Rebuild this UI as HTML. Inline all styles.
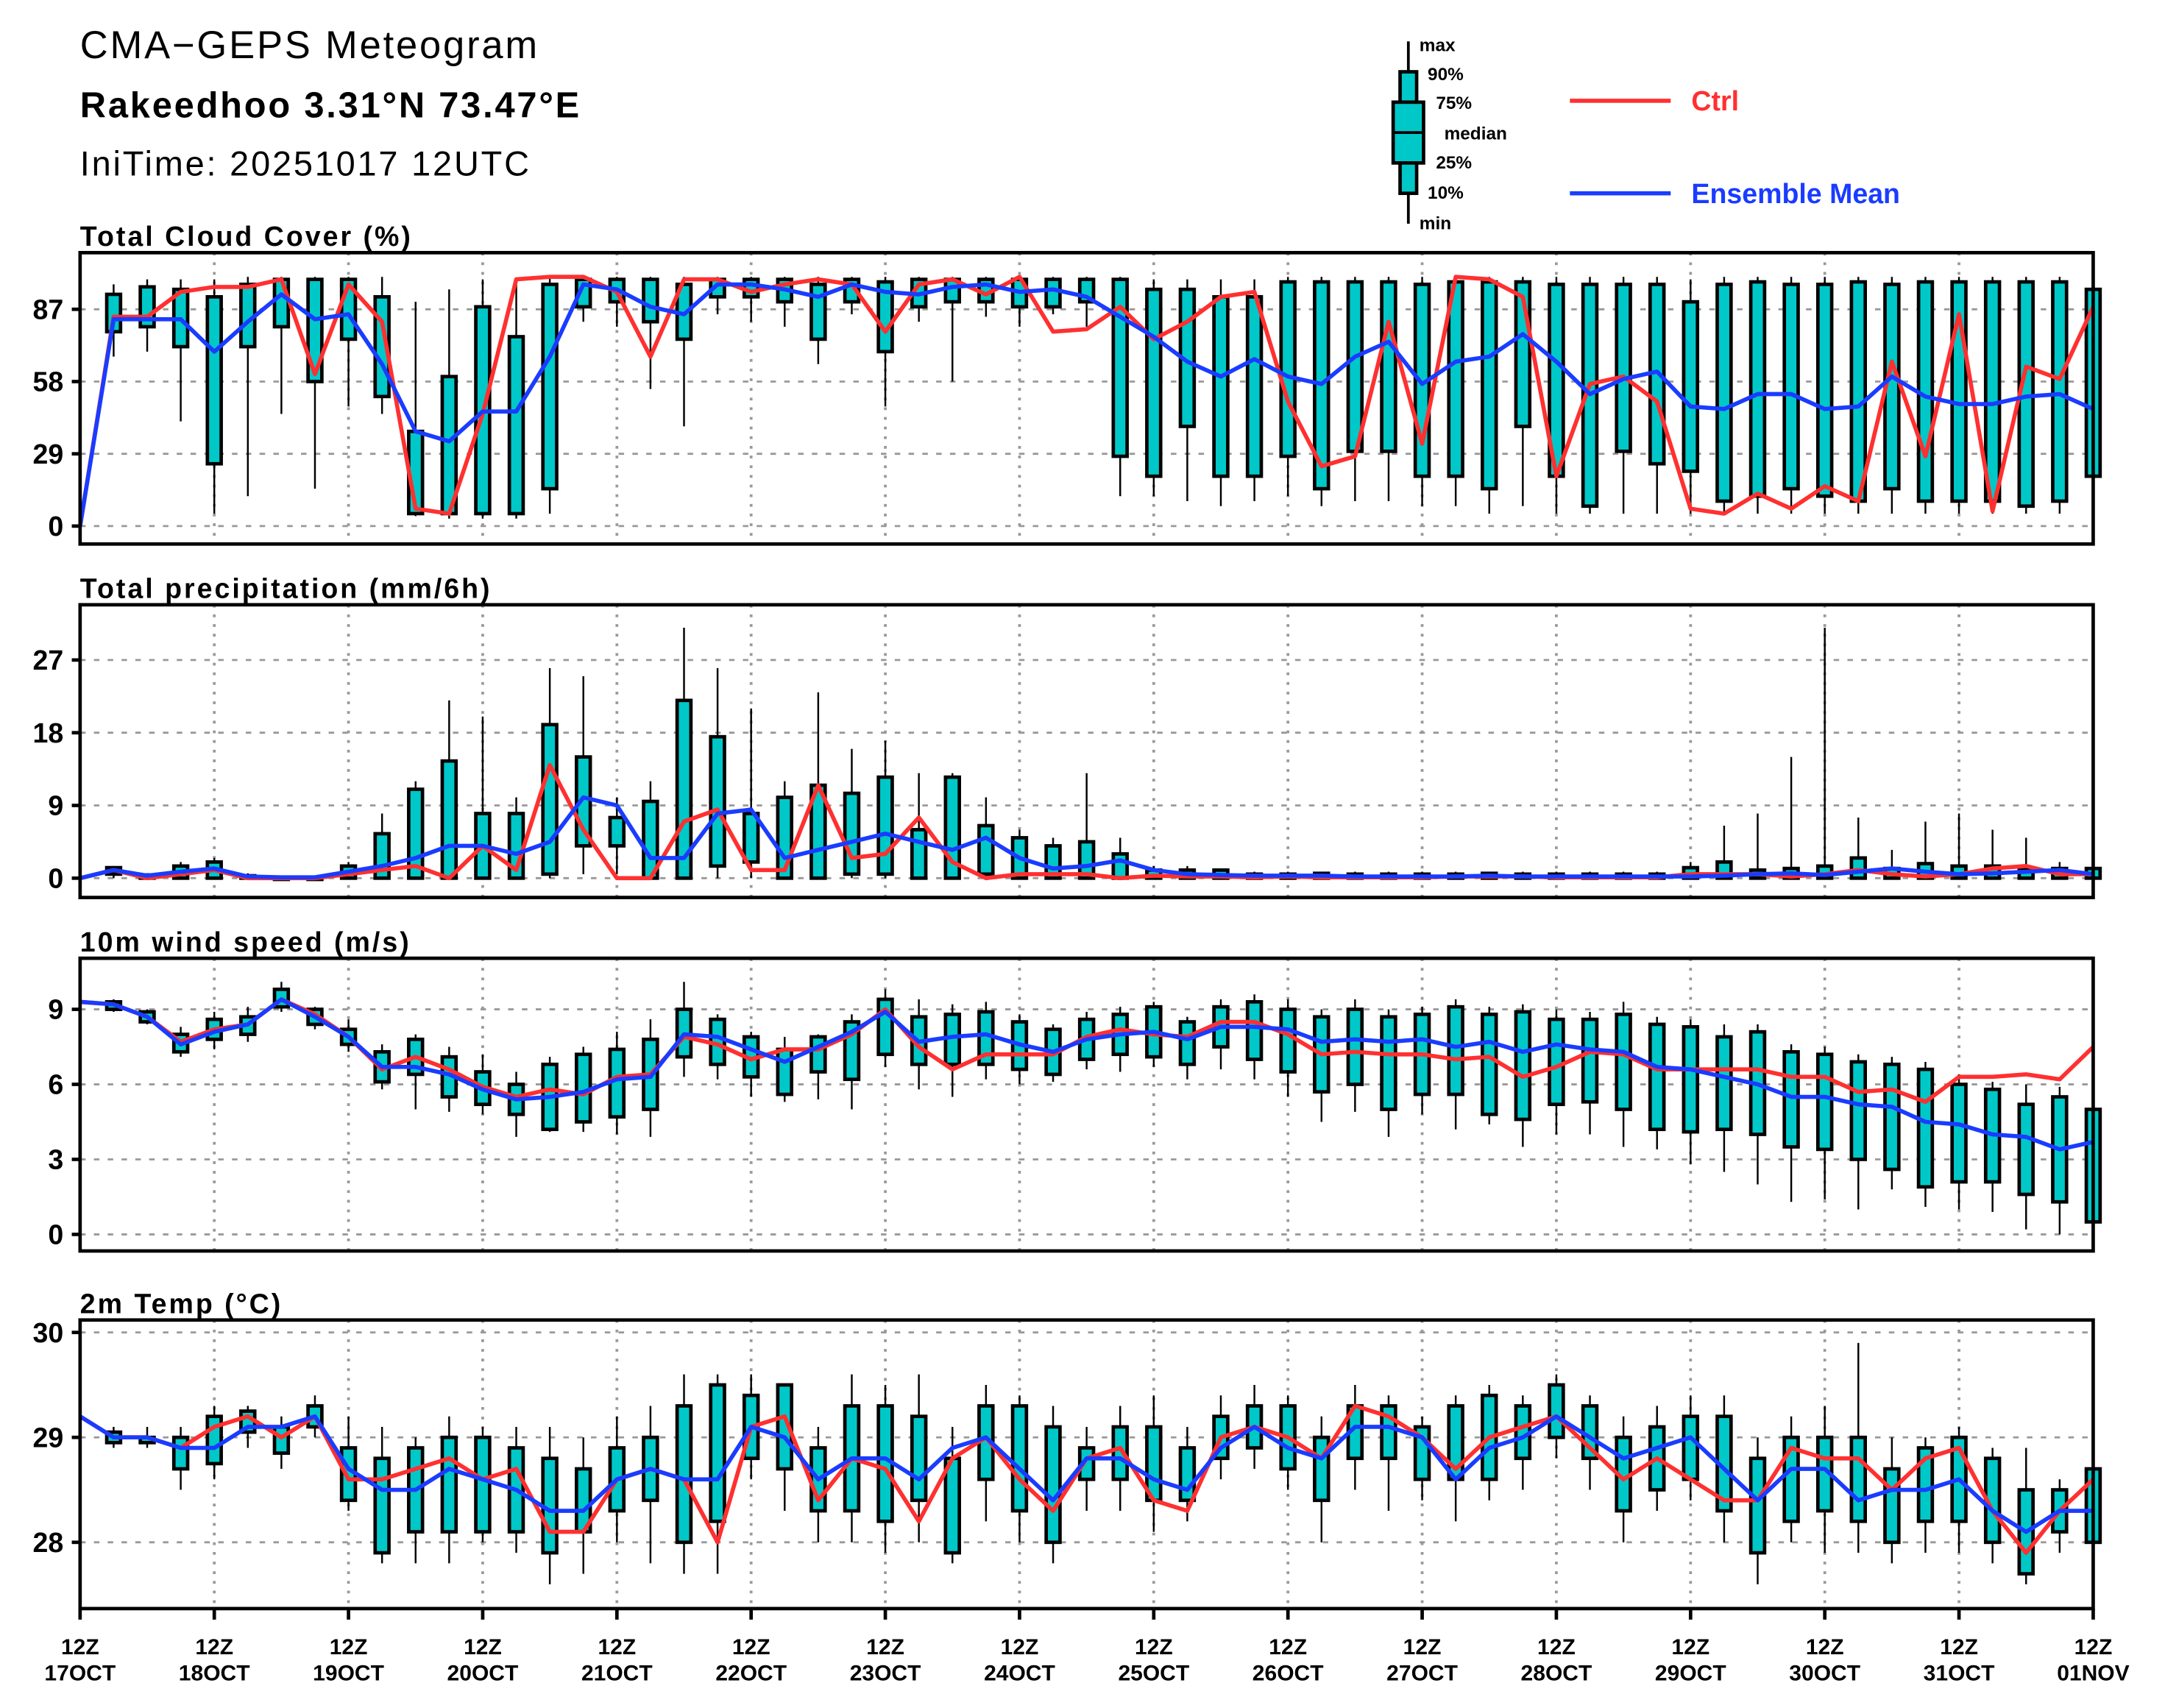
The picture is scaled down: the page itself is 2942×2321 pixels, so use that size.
<!DOCTYPE html>
<html><head><meta charset="utf-8"><style>
html,body{margin:0;padding:0;background:#fff;}
svg{display:block;}
text{font-family:"Liberation Sans",sans-serif;font-weight:bold;fill:#000;}
</style></head><body>
<svg id="chart" width="2942" height="2321" viewBox="0 0 1568 1237" preserveAspectRatio="none" xmlns="http://www.w3.org/2000/svg">
<text x="58" y="42" font-size="28" style="font-weight:normal" letter-spacing="1.5">CMA−GEPS Meteogram</text>
<text x="58" y="85" font-size="26" letter-spacing="1.5">Rakeedhoo 3.31°N 73.47°E</text>
<text x="58" y="127" font-size="25" style="font-weight:normal" letter-spacing="1.5">IniTime: 20251017 12UTC</text>
<g>
<line x1="1020" y1="30" x2="1020" y2="162" stroke="#000" stroke-width="2"/>
<rect x="1014" y="52" width="12" height="88" fill="#00c8c8" stroke="#000" stroke-width="2.5"/>
<rect x="1009" y="74" width="22" height="44" fill="#00c8c8" stroke="#000" stroke-width="2.5"/>
<line x1="1009" y1="96" x2="1031" y2="96" stroke="#000" stroke-width="2"/>
</g>
<g font-size="13">
<text x="1028" y="37">max</text>
<text x="1034" y="58">90%</text>
<text x="1040" y="79">75%</text>
<text x="1046" y="101">median</text>
<text x="1040" y="122">25%</text>
<text x="1034" y="144">10%</text>
<text x="1028" y="166">min</text>
</g>
<line x1="1137" y1="73" x2="1210" y2="73" stroke="#ff3030" stroke-width="3"/>
<text x="1225" y="80" font-size="20" style="fill:#ff3030">Ctrl</text>
<line x1="1137" y1="140" x2="1210" y2="140" stroke="#1a3cff" stroke-width="3"/>
<text x="1225" y="147" font-size="20" style="fill:#1a3cff">Ensemble Mean</text>
<g id="plots"></g>
</svg>
<script>
const dayLabels = ["17OCT","18OCT","19OCT","20OCT","21OCT","22OCT","23OCT","24OCT","25OCT","26OCT","27OCT","28OCT","29OCT","30OCT","31OCT","01NOV"];
const cloudCtrl = [0,84,84,94,96,96,99,61,97,82,7,5,45,99,100,100,94,68,99,99,94,97,99,97,78,97,99,93,100,78,79,88,75,82,92,94,50,24,28,82,33,100,99,92,20,57,60,50,7,5,13,7,16,10,66,28,85,6,64,59,88];
const cloudMean = [0,83,83,83,70,82,93,83,85,65,38,34,46,46,68,97,95,88,85,97,97,95,92,97,94,93,96,97,94,95,92,84,76,66,60,67,60,57,68,74,57,66,68,77,66,53,59,62,48,47,53,53,47,48,60,52,49,49,52,53,47];
const cloudP25 = [null,78,80,72,25,72,80,58,75,52,5,5,5,5,15,88,90,82,75,92,92,90,75,90,70,88,90,90,88,88,90,28,20,40,20,20,28,15,30,30,20,20,15,40,20,8,30,25,22,10,12,15,12,10,15,10,10,10,8,10,20];
const cloudP75 = [null,93,96,95,92,97,99,99,99,92,38,60,88,76,97,99,99,99,97,99,99,99,97,99,98,99,99,99,99,99,99,99,95,95,92,92,98,98,98,98,97,98,98,98,97,97,97,97,90,97,98,97,97,98,97,98,98,98,98,98,95];
const cloudMin = [null,68,70,42,5,12,45,15,48,45,4,3,3,3,5,82,80,55,40,85,82,80,65,85,48,82,58,84,80,85,80,12,12,10,8,10,12,8,10,10,8,8,5,8,5,5,5,5,5,5,5,5,5,5,5,5,5,5,5,5,3];
const cloudMax = [null,97,99,99,99,100,100,100,100,100,90,95,99,99,100,100,100,100,100,100,100,100,100,100,100,100,100,100,100,100,100,100,99,99,99,99,100,100,100,100,100,100,100,100,100,100,100,100,99,100,100,100,100,100,100,100,100,100,100,100,100];
const prCtrl = [0,1,0,0.5,1,0,0,0,0.5,1,1.5,0,4,1,14,6,0,0,7,8.5,1,1,11.5,2.5,3,7.5,2,0,0.5,0.5,0.5,0,0.3,0.2,0.2,0.1,0.2,0.1,0.1,0.1,0.1,0.2,0.2,0.2,0.1,0.1,0.1,0.1,0.5,0.5,0.5,0.2,0.5,1,0.5,0.2,0.5,1.2,1.5,0.5,0.5];
const prMean = [0,1,0.3,0.8,1.2,0.2,0.1,0.1,0.8,1.5,2.5,4,4,3,4.5,10,9,2.5,2.5,8,8.5,2.5,3.5,4.5,5.5,4.5,3.5,5,2.5,1.2,1.5,2.2,1,0.5,0.4,0.3,0.3,0.3,0.2,0.2,0.2,0.2,0.3,0.2,0.2,0.2,0.2,0.2,0.2,0.3,0.5,0.6,0.4,0.8,1.2,0.8,0.5,0.6,0.8,1,0.5];
const prP25 = [null,0.5,0,0,0,0,0,0,0,0,0,0,0,0,0.5,4,4,0,0,1.5,2,0,0,0.5,0.5,0,0,0.5,0,0,0,0,0,0,0,0,0,0,0,0,0,0,0,0,0,0,0,0,0,0,0,0,0,0,0,0,0,0,0,0,0];
const prP75 = [null,1.3,0.4,1.5,2,0.3,0.1,0.1,1.5,5.5,11,14.5,8,8,19,15,7.5,9.5,22,17.5,8,10,11.5,10.5,12.5,6,12.5,6.5,5,4,4.5,3,1,1,1,0.5,0.5,0.6,0.5,0.5,0.5,0.5,0.6,0.5,0.5,0.5,0.5,0.5,1.3,2,1,1.2,1.5,2.5,1.2,1.8,1.5,1.5,1.2,1.2,1.2];
const prMin = [null,0,0,0,0,0,0,0,0,0,0,0,0,0,0,0.5,0.5,0,0,0,0,0,0,0,0,0,0,0,0,0,0,0,0,0,0,0,0,0,0,0,0,0,0,0,0,0,0,0,0,0,0,0,0,0,0,0,0,0,0,0,0];
const prMax = [null,1.5,0.6,2,2.5,0.6,0.2,0.2,2,8,12,22,20,10,26,25,10,12,31,26,21,12,23,16,17,13,13,10,6,5,13,5,1.5,1.5,1.2,0.8,0.8,0.8,0.8,0.8,0.8,0.8,0.8,0.8,0.8,0.8,0.8,0.8,2,6.5,8,15,31,7.5,3.5,7,8,6,5,2,2];
const wCtrl = [9.3,9.2,8.7,7.7,8.2,8.4,9.4,8.8,7.9,6.6,7.1,6.6,5.9,5.5,5.8,5.6,6.3,6.4,7.9,7.6,7.0,7.4,7.4,8.0,9.0,7.5,6.6,7.2,7.2,7.2,7.9,8.2,8.0,7.9,8.5,8.5,8.0,7.2,7.3,7.2,7.2,7.0,7.1,6.3,6.7,7.3,7.2,6.6,6.6,6.6,6.6,6.3,6.3,5.7,5.8,5.3,6.3,6.3,6.4,6.2,7.5];
const wMean = [9.3,9.2,8.7,7.6,8.1,8.4,9.4,8.7,7.9,6.7,6.7,6.4,5.8,5.4,5.5,5.7,6.2,6.3,8.0,7.9,7.4,6.9,7.5,8.1,8.9,7.7,7.9,8.0,7.6,7.3,7.8,8.0,8.1,7.8,8.3,8.3,8.2,7.7,7.8,7.7,7.8,7.5,7.7,7.3,7.6,7.4,7.3,6.7,6.6,6.3,6.0,5.5,5.5,5.2,5.1,4.5,4.4,4.0,3.9,3.4,3.7];
const wP25 = [null,9.0,8.5,7.3,7.8,8.0,9.1,8.4,7.6,6.1,6.4,5.5,5.2,4.8,4.2,4.5,4.7,5.0,7.1,6.8,6.3,5.6,6.5,6.2,7.2,6.8,6.8,6.8,6.6,6.4,7.0,7.2,7.1,6.8,7.5,7.0,6.5,5.7,6.0,5.0,5.6,5.6,4.8,4.6,5.2,5.3,5.0,4.2,4.1,4.2,4.0,3.5,3.4,3.0,2.6,1.9,2.1,2.1,1.6,1.3,0.5];
const wP75 = [null,9.3,8.9,8.0,8.6,8.7,9.8,9.0,8.2,7.3,7.8,7.1,6.5,6.0,6.8,7.2,7.4,7.8,9.0,8.6,7.9,7.4,7.9,8.5,9.4,8.7,8.8,8.9,8.5,8.2,8.6,8.8,9.1,8.5,9.1,9.3,9.0,8.7,9.0,8.7,8.8,9.1,8.8,8.9,8.6,8.6,8.8,8.4,8.3,7.9,8.1,7.3,7.2,6.9,6.8,6.6,6.0,5.8,5.2,5.5,5.0];
const wMin = [null,8.9,8.4,7.1,7.4,7.7,8.9,8.2,7.3,5.8,5.0,4.9,4.8,3.9,4.1,4.1,4.0,3.9,6.3,6.2,5.5,5.3,5.4,5.0,6.7,5.8,5.5,6.2,6.0,6.1,6.6,6.5,6.7,6.2,6.6,6.2,5.5,4.5,4.9,3.9,4.8,4.2,4.4,3.5,4.0,4.0,3.5,3.4,2.8,2.5,2.0,1.3,1.4,1.0,1.8,1.1,1.0,0.9,0.2,0.0,0.2];
const wMax = [null,9.4,9.0,8.3,8.9,9.1,10.1,9.1,8.6,7.6,8.0,7.5,7.2,6.5,7.1,7.5,8.1,8.6,10.1,8.8,8.1,7.9,8.0,8.8,9.8,9.4,9.2,9.3,8.8,8.4,8.9,9.1,9.3,8.7,9.4,9.6,9.4,9.0,9.4,9.0,9.1,9.4,9.1,9.2,9.0,8.9,9.3,8.7,8.6,8.4,8.4,7.6,7.5,7.2,7.1,6.9,6.4,6.1,6.0,5.9,5.5];
const tCtrl = [29.2,29.0,29.0,28.9,29.1,29.2,29.0,29.2,28.6,28.6,28.7,28.8,28.6,28.7,28.1,28.1,28.6,28.7,28.6,28.0,29.1,29.2,28.4,28.8,28.7,28.2,28.8,29.0,28.6,28.3,28.8,28.9,28.4,28.3,29.0,29.1,29.0,28.8,29.3,29.2,29.0,28.7,29.0,29.1,29.2,28.9,28.6,28.8,28.6,28.4,28.4,28.9,28.8,28.8,28.5,28.8,28.9,28.3,27.9,28.3,28.6];
const tMean = [29.2,29.0,29.0,28.9,28.9,29.1,29.1,29.2,28.7,28.5,28.5,28.7,28.6,28.5,28.3,28.3,28.6,28.7,28.6,28.6,29.1,29.0,28.6,28.8,28.8,28.6,28.9,29.0,28.7,28.4,28.8,28.8,28.6,28.5,28.9,29.1,28.9,28.8,29.1,29.1,29.0,28.6,28.9,29.0,29.2,29.0,28.8,28.9,29.0,28.7,28.4,28.7,28.7,28.4,28.5,28.5,28.6,28.3,28.1,28.3,28.3];
const tP25 = [null,28.95,28.95,28.7,28.75,29.05,28.85,29.1,28.4,27.9,28.1,28.1,28.1,28.1,27.9,28.1,28.3,28.4,28.0,28.2,28.8,28.7,28.3,28.3,28.2,28.4,27.9,28.6,28.3,28.0,28.6,28.6,28.4,28.4,28.8,28.9,28.7,28.4,28.8,28.8,28.6,28.6,28.6,28.8,29.0,28.8,28.3,28.5,28.6,28.3,27.9,28.2,28.3,28.2,28.0,28.2,28.2,28.0,27.7,28.1,28.0];
const tP75 = [null,29.05,29.0,29.0,29.2,29.25,29.1,29.3,28.9,28.8,28.9,29.0,29.0,28.9,28.8,28.7,28.9,29.0,29.3,29.5,29.4,29.5,28.9,29.3,29.3,29.2,28.8,29.3,29.3,29.1,28.9,29.1,29.1,28.9,29.2,29.3,29.3,29.0,29.3,29.3,29.1,29.3,29.4,29.3,29.5,29.3,29.0,29.1,29.2,29.2,28.8,29.0,29.0,29.0,28.7,28.9,29.0,28.8,28.5,28.5,28.7];
const tMin = [null,28.9,28.9,28.5,28.6,28.9,28.7,29.0,28.3,27.8,27.8,27.8,28.0,27.9,27.6,27.7,28.0,27.8,27.7,27.7,28.6,28.3,28.0,28.0,27.9,28.0,27.8,28.2,28.0,27.8,28.3,28.3,28.1,28.2,28.6,28.7,28.5,28.0,28.5,28.3,28.4,28.2,28.4,28.5,28.8,28.5,28.0,28.3,28.4,28.0,27.6,28.0,27.9,27.9,27.8,27.9,27.9,27.8,27.6,27.9,27.9];
const tMax = [null,29.1,29.1,29.1,29.3,29.3,29.2,29.4,29.2,29.1,29.0,29.2,29.1,29.1,29.1,29.0,29.2,29.3,29.6,29.6,29.6,29.5,29.1,29.6,29.5,29.6,29.1,29.5,29.4,29.3,29.1,29.3,29.4,29.1,29.4,29.5,29.4,29.2,29.5,29.4,29.2,29.4,29.5,29.4,29.6,29.4,29.2,29.3,29.4,29.4,29.0,29.2,29.3,29.9,29.0,29.0,29.1,28.9,28.9,28.6,28.8];

const NS="http://www.w3.org/2000/svg";
const X0=58, X1=1516, NSTEP=60;
const xs = i => X0 + (X1-X0)*i/NSTEP;
const g = document.getElementById('plots');
function el(tag, attrs, parent){const e=document.createElementNS(NS,tag);for(const k in attrs)e.setAttribute(k,attrs[k]);(parent||g).appendChild(e);return e;}

const panels = [
 {name:"cloud", title:"Total Cloud Cover (%)", top:183, bot:394, v0:0, y0:381, v1:87, y1:224, ticks:[0,29,58,87], ctrl:cloudCtrl, mean:cloudMean, p25:cloudP25, p75:cloudP75, mn:cloudMin, mx:cloudMax},
 {name:"precip", title:"Total precipitation (mm/6h)", top:438, bot:650, v0:0, y0:636, v1:27, y1:478, ticks:[0,9,18,27], ctrl:prCtrl, mean:prMean, p25:prP25, p75:prP75, mn:prMin, mx:prMax},
 {name:"wind", title:"10m wind speed (m/s)", top:694, bot:906, v0:0, y0:894, v1:9, y1:731, ticks:[0,3,6,9], ctrl:wCtrl, mean:wMean, p25:wP25, p75:wP75, mn:wMin, mx:wMax},
 {name:"temp", title:"2m Temp (°C)", top:956, bot:1165, v0:28, y0:1117, v1:30, y1:965, ticks:[28,29,30], ctrl:tCtrl, mean:tMean, p25:tP25, p75:tP75, mn:tMin, mx:tMax}
];

panels.forEach(p=>{
  const grp = el('g',{});
  
  
  const ys = v => p.y0 + (v-p.v0)*(p.y1-p.y0)/(p.v1-p.v0);
  const cy = v => Math.max(p.top, Math.min(p.bot, ys(v)));
  const t = el('text',{x:58,y:p.top-5,'font-size':20,'letter-spacing':'1.6'},grp);
  t.textContent=p.title;
  
  
  for(let d=1; d<15; d++){
    const l=el('line',{x1:xs(d*4),x2:xs(d*4),y1:p.top,y2:p.bot,stroke:'#999','stroke-width':2,'stroke-dasharray':'2,5'},grp);
    
    
  }
  p.ticks.forEach(v=>{
    const y=ys(v);
    const l=el('line',{x1:X0,x2:X1,y1:y,y2:y,stroke:'#999','stroke-width':1.5,'stroke-dasharray':'4,6'},grp);
    
    
    el('line',{x1:X0-6,x2:X0,y1:y,y2:y,stroke:'#000','stroke-width':2.5},grp);
    const tt=el('text',{x:X0-12,y:y+7,'font-size':20,'text-anchor':'end'},grp);
    tt.textContent=String(v);
    
    
  });
  for(let i=1;i<=NSTEP;i++){
    if(p.p25[i]==null) continue;
    const x=xs(i);
    const w=el('line',{x1:x,x2:x,y1:cy(p.mn[i]),y2:cy(p.mx[i]),stroke:'#000','stroke-width':1.3},grp);
    
    
    const yA=cy(p.p75[i]), yB=cy(p.p25[i]);
    const b=el('rect',{x:x-5,y:yA,width:10,height:Math.max(1.5,yB-yA),fill:'#00c8c8',stroke:'#000','stroke-width':2.5},grp);
    
    
  }
  const line=(arr,col,nm)=>{
    const pts=arr.map((v,i)=>xs(i).toFixed(1)+','+cy(v).toFixed(1)).join(' ');
    const pl=el('polyline',{points:pts,fill:'none',stroke:col,'stroke-width':3,'stroke-linejoin':'round'},grp);
    
    
  };
  line(p.ctrl,'#ff3030',p.name+'-ctrl-line');
  line(p.mean,'#1a3cff',p.name+'-mean-line');
  const fr=el('rect',{x:X0,y:p.top,width:X1-X0,height:p.bot-p.top,fill:'none',stroke:'#000','stroke-width':2.5},grp);
  
  
});
dayLabels.forEach((d,k)=>{
  const x=xs(k*4);
  el('line',{x1:x,x2:x,y1:1165,y2:1173,stroke:'#000','stroke-width':2.5});
  const a=el('text',{x:x,y:1198,'font-size':16,'text-anchor':'middle'});
  a.textContent='12Z';
  
  
  const b=el('text',{x:x,y:1217,'font-size':16,'text-anchor':'middle'});
  b.textContent=d;
  
  
});
</script>
</body></html>
